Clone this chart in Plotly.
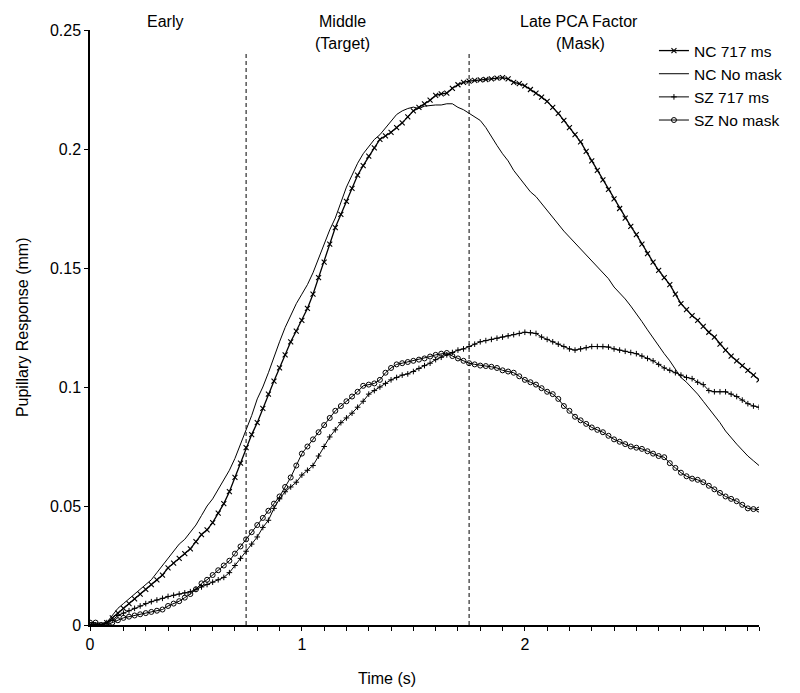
import plotly.graph_objects as go

# Time (s)
time_s = [0.05, 0.075, 0.10, 0.125, 0.15, 0.175, 0.20, 0.225, 0.25, 0.275,
          0.30, 0.325, 0.35, 0.375, 0.40, 0.425, 0.45, 0.475, 0.50, 0.525,
          0.55, 0.575, 0.60, 0.625, 0.65, 0.675, 0.70, 0.725, 0.75, 0.775,
          0.80, 0.825, 0.85, 0.875, 0.90, 0.925, 0.95, 0.975, 1.00, 1.025,
          1.05, 1.075, 1.10, 1.125, 1.15, 1.175, 1.20, 1.225, 1.25, 1.275,
          1.30, 1.325, 1.35, 1.375, 1.40, 1.425, 1.45, 1.475, 1.50, 1.525,
          1.55, 1.575, 1.60, 1.625, 1.65, 1.675, 1.70, 1.725, 1.75, 1.775,
          1.80, 1.825, 1.85, 1.875, 1.90, 1.925, 1.95, 1.975, 2.00, 2.025,
          2.05, 2.075, 2.10, 2.125, 2.15, 2.175, 2.20, 2.225, 2.25, 2.275,
          2.30, 2.325, 2.35, 2.375, 2.40, 2.425, 2.45, 2.475, 2.50, 2.525,
          2.55, 2.575, 2.60, 2.625, 2.65, 2.675, 2.70, 2.725, 2.75, 2.775,
          2.80, 2.825, 2.85, 2.875, 2.90, 2.925, 2.95, 2.975, 3.00, 3.025, 3.05]

nc_717 = [0.000, 0.000, 0.000, 0.001, 0.003, 0.005, 0.007, 0.009, 0.011, 0.013,
          0.015, 0.017, 0.019, 0.021, 0.024, 0.026, 0.028, 0.030, 0.032, 0.035,
          0.038, 0.040, 0.043, 0.047, 0.051, 0.056, 0.062, 0.068, 0.0745, 0.080,
          0.085, 0.091, 0.097, 0.1025, 0.108, 0.1135, 0.119, 0.1235, 0.128, 0.133,
          0.139, 0.146, 0.1525, 0.160, 0.167, 0.1725, 0.178, 0.1835, 0.189, 0.193,
          0.197, 0.2005, 0.204, 0.2055, 0.207, 0.209, 0.211, 0.2135, 0.216, 0.2175,
          0.219, 0.2205, 0.2225, 0.2232, 0.2235, 0.2255, 0.227, 0.228, 0.2285, 0.2288,
          0.229, 0.2292, 0.2295, 0.2298, 0.230, 0.2295, 0.228, 0.2275, 0.2265, 0.225,
          0.2235, 0.2218, 0.220, 0.2175, 0.215, 0.212, 0.209, 0.206, 0.203, 0.199,
          0.195, 0.191, 0.187, 0.183, 0.179, 0.175, 0.171, 0.1675, 0.164, 0.160,
          0.156, 0.1525, 0.149, 0.146, 0.143, 0.139, 0.135, 0.1325, 0.130, 0.128,
          0.1255, 0.123, 0.121, 0.118, 0.1155, 0.113, 0.111, 0.109, 0.107, 0.105, 0.103]

nc_nomask = [0.000, 0.000, 0.000, 0.001, 0.004, 0.007, 0.009, 0.011, 0.013, 0.015,
             0.017, 0.019, 0.022, 0.025, 0.028, 0.031, 0.034, 0.036, 0.039, 0.042,
             0.046, 0.050, 0.053, 0.057, 0.061, 0.065, 0.070, 0.076, 0.082, 0.088,
             0.095, 0.100, 0.106, 0.113, 0.119, 0.125, 0.130, 0.135, 0.139, 0.143,
             0.148, 0.154, 0.160, 0.166, 0.171, 0.178, 0.184, 0.189, 0.194, 0.198,
             0.201, 0.204, 0.206, 0.209, 0.212, 0.2145, 0.216, 0.217, 0.2176, 0.217,
             0.218, 0.2183, 0.2185, 0.2185, 0.219, 0.219, 0.2175, 0.2165, 0.215, 0.2135,
             0.212, 0.209, 0.205, 0.2015, 0.198, 0.195, 0.191, 0.188, 0.1845, 0.182,
             0.180, 0.177, 0.1745, 0.171, 0.168, 0.1655, 0.163, 0.1605, 0.158, 0.1555,
             0.153, 0.1505, 0.148, 0.1455, 0.142, 0.1395, 0.137, 0.134, 0.131, 0.1275,
             0.124, 0.1205, 0.117, 0.114, 0.111, 0.1075, 0.104, 0.102, 0.0995, 0.097,
             0.094, 0.091, 0.0885, 0.085, 0.0815, 0.0785, 0.076, 0.0735, 0.071, 0.069, 0.067]

sz_717 = [0.000, 0.000, 0.000, 0.001, 0.002, 0.004, 0.005, 0.006, 0.007, 0.008,
          0.009, 0.0098, 0.0105, 0.0112, 0.012, 0.0125, 0.013, 0.0135, 0.014, 0.015,
          0.016, 0.017, 0.018, 0.019, 0.020, 0.022, 0.025, 0.028, 0.031, 0.034,
          0.037, 0.041, 0.044, 0.049, 0.053, 0.056, 0.058, 0.060, 0.063, 0.065,
          0.067, 0.071, 0.075, 0.079, 0.082, 0.085, 0.087, 0.089, 0.0915, 0.094,
          0.097, 0.0985, 0.100, 0.1015, 0.103, 0.104, 0.105, 0.1055, 0.1065, 0.1078,
          0.109, 0.110, 0.1115, 0.1125, 0.1135, 0.1145, 0.1155, 0.116, 0.117, 0.118,
          0.119, 0.1195, 0.120, 0.1205, 0.121, 0.1215, 0.122, 0.1225, 0.123, 0.1228,
          0.1225, 0.121, 0.120, 0.119, 0.118, 0.117, 0.116, 0.1155, 0.116, 0.1165,
          0.117, 0.117, 0.117, 0.1168, 0.116, 0.1155, 0.115, 0.1145, 0.114, 0.113,
          0.112, 0.111, 0.1095, 0.108, 0.107, 0.106, 0.105, 0.104, 0.1035, 0.102,
          0.101, 0.0985, 0.098, 0.098, 0.098, 0.097, 0.096, 0.0945, 0.093, 0.092, 0.0915]

sz_nomask = [0.001, 0.001, 0.000, 0.000, 0.001, 0.002, 0.003, 0.0035, 0.004, 0.0045,
             0.005, 0.0055, 0.006, 0.0065, 0.008, 0.009, 0.010, 0.0115, 0.013, 0.015,
             0.0175, 0.019, 0.021, 0.023, 0.025, 0.027, 0.030, 0.033, 0.036, 0.039,
             0.042, 0.045, 0.048, 0.051, 0.054, 0.058, 0.062, 0.067, 0.072, 0.075,
             0.078, 0.081, 0.084, 0.087, 0.090, 0.092, 0.094, 0.096, 0.098, 0.1005,
             0.101, 0.1015, 0.103, 0.106, 0.108, 0.1095, 0.110, 0.1105, 0.111, 0.1115,
             0.112, 0.1128, 0.1135, 0.114, 0.1143, 0.113, 0.112, 0.111, 0.110, 0.1095,
             0.109, 0.1088, 0.1085, 0.108, 0.107, 0.1065, 0.106, 0.1045, 0.103, 0.102,
             0.101, 0.0995, 0.098, 0.097, 0.095, 0.092, 0.090, 0.0875, 0.086, 0.0845,
             0.083, 0.082, 0.081, 0.0795, 0.078, 0.077, 0.076, 0.075, 0.0745, 0.074,
             0.073, 0.072, 0.071, 0.0705, 0.068, 0.066, 0.064, 0.0625, 0.0615, 0.061,
             0.060, 0.0585, 0.057, 0.0555, 0.054, 0.053, 0.052, 0.0505, 0.049, 0.0487, 0.0485]

series_names = ["NC 717 ms", "NC No mask", "SZ 717 ms", "SZ No mask"]

x_tick_vals = [0.05, 0.2, 0.3, 0.4, 0.5, 0.6, 0.7, 0.8, 0.9, 1.0,
               1.1, 1.2, 1.3, 1.4, 1.5, 1.6, 1.7, 1.8, 1.9, 2.0,
               2.1, 2.2, 2.3, 2.4, 2.5, 2.6, 2.7, 2.8, 2.9, 3.0, 3.05]
x_tick_text = ["0", "", "", "", "", "", "", "", "", "1",
               "", "", "", "", "", "", "", "", "", "2",
               "", "", "", "", "", "", "", "", "", "", ""]
y_tick_vals = [0, 0.05, 0.1, 0.15, 0.2, 0.25]
y_tick_text = ["0", "0.05", "0.1", "0.15", "0.2", "0.25"]

phase_bounds = [0.75, 1.75]
phase_labels = ["Early", "Middle", "(Target)", "Late PCA Factor", "(Mask)"]

FONT = "Liberation Sans, Arial, sans-serif"

fig = go.Figure()
fig.add_trace(go.Scatter(x=time_s, y=nc_717, name=series_names[0], mode="lines+markers",
                         line=dict(color="black", width=1.3),
                         marker=dict(symbol="x-thin", size=5, line=dict(color="black", width=1.1))))
fig.add_trace(go.Scatter(x=time_s, y=nc_nomask, name=series_names[1], mode="lines",
                         line=dict(color="black", width=1)))
fig.add_trace(go.Scatter(x=time_s, y=sz_717, name=series_names[2], mode="lines+markers",
                         line=dict(color="black", width=1),
                         marker=dict(symbol="cross-thin", size=4, line=dict(color="black", width=1))))
fig.add_trace(go.Scatter(x=time_s, y=sz_nomask, name=series_names[3], mode="lines+markers",
                         line=dict(color="black", width=1),
                         marker=dict(symbol="circle-open", size=5, color="black", line=dict(width=1))))

for xb in phase_bounds:
    fig.add_shape(type="line", x0=xb, x1=xb, y0=0, y1=0.24, xref="x", yref="y",
                  line=dict(color="black", width=1, dash="4px,3px"))

label_pos = [(166, 21), (345, 21), (345, 43), (583, 21), (585, 43)]
for txt, (px, py) in zip(phase_labels, label_pos):
    fig.add_annotation(text=txt, x=(px - 90) / 675, y=1 - (py - 30) / 595, xref="paper", yref="paper",
                       showarrow=False, xanchor="center", yanchor="middle",
                       font=dict(size=16, color="black", family=FONT))

fig.add_annotation(text="Time (s)", x=(390 - 90) / 675, y=1 - (679 - 30) / 595, xref="paper", yref="paper",
                   showarrow=False, xanchor="center", yanchor="middle",
                   font=dict(size=16, color="black", family=FONT))
fig.add_annotation(text="Pupillary Response (mm)", x=(22 - 90) / 675, y=0.5, xref="paper", yref="paper",
                   showarrow=False, textangle=-90, xanchor="center", yanchor="middle",
                   font=dict(size=16, color="black", family=FONT))

fig.update_xaxes(range=[0.05, 3.05], tickmode="array", tickvals=x_tick_vals, ticktext=x_tick_text,
                 ticks="outside", ticklen=4, tickcolor="black", showline=True, linecolor="black",
                 linewidth=1.5, showgrid=False, zeroline=False,
                 tickfont=dict(size=16, color="black", family=FONT))
fig.update_yaxes(range=[0, 0.25], tickmode="array", tickvals=y_tick_vals, ticktext=y_tick_text,
                 ticks="outside", ticklen=4, tickcolor="black", showline=True, linecolor="black",
                 linewidth=1.5, showgrid=False, zeroline=False,
                 tickfont=dict(size=16, color="black", family=FONT))

fig.update_layout(
    width=800, height=693,
    margin=dict(l=90, r=35, t=30, b=68),
    plot_bgcolor="white", paper_bgcolor="white",
    font=dict(family=FONT, color="black"),
    showlegend=True,
    legend=dict(x=(659 - 90) / 675, y=1 - (34 - 30) / 595, xanchor="left", yanchor="top",
                bgcolor="rgba(0,0,0,0)", font=dict(size=15.5, color="black", family=FONT),
                tracegroupgap=0, itemwidth=30),
)

fig.write_html("out.html", config={"displayModeBar": False})

# remove the default 8px page margin so the 800x693 figure fills the window exactly
with open("out.html", "r", encoding="utf-8") as f:
    html = f.read()
html = html.replace("<head>", "<head><style>html,body{margin:0;padding:0;overflow:hidden;}</style>", 1)
with open("out.html", "w", encoding="utf-8") as f:
    f.write(html)
